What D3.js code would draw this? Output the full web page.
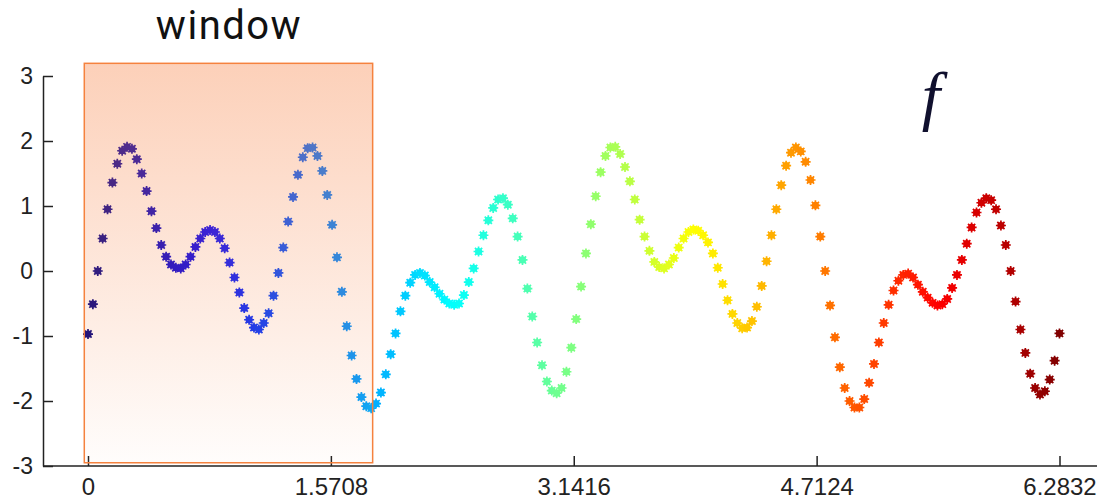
<!DOCTYPE html>
<html>
<head>
<meta charset="utf-8">
<script src="https://d3js.org/d3.v7.min.js"></script>
<style>
  body { margin: 0; background: #fff; }
  .tick text { font-family: "Liberation Sans", Arial, sans-serif; fill: #222; }
  .axis path, .axis line { stroke: #222; stroke-width: 1.5px; }
</style>
</head>
<body>
<svg id="chart" width="1097" height="500"></svg>
<script>
// sample values of f, 200 points from 0 to 2*pi
var fValues = [
  -0.97, -0.51, 0.00, 0.50, 0.95, 1.36, 1.65, 1.85, 1.91, 1.88,
   1.72, 1.50, 1.23, 0.92, 0.66, 0.40, 0.22, 0.10, 0.05, 0.04,
   0.10, 0.22, 0.37, 0.50, 0.60, 0.63, 0.60, 0.50, 0.35, 0.13,
  -0.10, -0.33, -0.57, -0.75, -0.87, -0.90, -0.80, -0.65, -0.38, -0.03,
   0.36, 0.76, 1.14, 1.48, 1.75, 1.89, 1.90, 1.77, 1.54, 1.17,
   0.71, 0.21, -0.32, -0.85, -1.30, -1.66, -1.94, -2.08, -2.11, -2.04,
  -1.87, -1.59, -1.28, -0.96, -0.62, -0.38, -0.18, -0.06, -0.03, -0.07,
  -0.17, -0.25, -0.35, -0.44, -0.50, -0.52, -0.50, -0.37, -0.17, 0.04,
   0.30, 0.55, 0.78, 0.97, 1.10, 1.12, 1.02, 0.81, 0.53, 0.17,
  -0.27, -0.70, -1.10, -1.45, -1.70, -1.84, -1.88, -1.80, -1.55, -1.18,
  -0.74, -0.24, 0.27, 0.72, 1.15, 1.52, 1.77, 1.90, 1.91, 1.80,
   1.60, 1.38, 1.10, 0.79, 0.53, 0.31, 0.14, 0.06, 0.04, 0.10,
   0.20, 0.36, 0.50, 0.60, 0.64, 0.62, 0.55, 0.44, 0.27, 0.05,
  -0.20, -0.45, -0.66, -0.80, -0.88, -0.87, -0.77, -0.55, -0.23, 0.15,
   0.55, 0.95, 1.32, 1.62, 1.82, 1.90, 1.84, 1.68, 1.40, 1.01,
   0.53, 0.00, -0.53, -1.02, -1.48, -1.80, -2.00, -2.10, -2.10, -1.97,
  -1.72, -1.43, -1.10, -0.80, -0.52, -0.30, -0.15, -0.06, -0.04, -0.10,
  -0.21, -0.32, -0.41, -0.49, -0.53, -0.51, -0.43, -0.26, -0.06, 0.17,
   0.42, 0.67, 0.90, 1.05, 1.12, 1.09, 0.95, 0.70, 0.40, 0.00,
  -0.47, -0.90, -1.26, -1.58, -1.80, -1.90, -1.85, -1.67, -1.38, -0.96
];
var xTicks = [0, 1.5708, 3.1416, 4.7124, 6.2832];
var xTickLabels = ["0", "1.5708", "3.1416", "4.7124", "6.2832"];
var yTicks = [-3, -2, -1, 0, 1, 2, 3];
var windowX = [-0.024, 1.841];
var windowY = [-2.95, 3.195];

var svg = d3.select("#chart");
var n = fValues.length;
var xStep = 2 * Math.PI / (n - 1);

var x = d3.scaleLinear().domain([0, 2 * Math.PI]).range([88, 1059.5]);
var y = d3.scaleLinear().domain([-3, 3]).range([466, 76]);

// jet colormap
function jet(t) {
  var c = function(v) { return Math.max(0, Math.min(1, v)) * 255; };
  return d3.rgb(c(1.5 - Math.abs(4 * t - 3)), c(1.5 - Math.abs(4 * t - 2)), c(1.5 - Math.abs(4 * t - 1))) + "";
}

// gradient for the window
var defs = svg.append("defs");
var grad = defs.append("linearGradient").attr("id", "winGrad")
    .attr("x1", 0).attr("y1", 0).attr("x2", 0).attr("y2", 1);
grad.append("stop").attr("offset", "0%").attr("stop-color", "rgb(248,138,80)").attr("stop-opacity", 0.4);
grad.append("stop").attr("offset", "100%").attr("stop-color", "rgb(248,138,80)").attr("stop-opacity", 0.02);

// axes
svg.append("line").attr("x1", 43).attr("x2", 1097).attr("y1", 466).attr("y2", 466)
    .attr("stroke", "#222").attr("stroke-width", 1.5);

var xAxis = svg.append("g").attr("class", "axis").attr("transform", "translate(0,466)")
    .call(d3.axisBottom(x).tickValues(xTicks)
      .tickFormat(function(d, i) { return xTickLabels[i]; })
      .tickSizeInner(-10).tickSizeOuter(0).tickPadding(12));
xAxis.select(".domain").remove();
xAxis.selectAll("text").style("font-size", "24px");

var yAxis = svg.append("g").attr("class", "axis").attr("transform", "translate(43,0)")
    .call(d3.axisLeft(y).tickValues(yTicks).tickFormat(function(d) { return String(d); })
      .tickSizeInner(-10).tickSizeOuter(0).tickPadding(10));
yAxis.selectAll("text").style("font-size", "23px");

// points
var star = "M-5,0H5M0,-5V5M-3.6,-3.6L3.6,3.6M-3.6,3.6L3.6,-3.6";
var pts = svg.append("g").selectAll("g")
  .data(fValues)
  .enter().append("g")
    .attr("transform", function(d, i) { return "translate(" + x(i * xStep) + "," + y(d) + ")"; });
pts.append("circle").attr("r", 3.6)
    .attr("fill", function(d, i) { return jet(i / (n - 1)); });
pts.append("path").attr("d", star)
    .attr("stroke", function(d, i) { return jet(i / (n - 1)); })
    .attr("stroke-width", 1.7).attr("fill", "none");

// window overlay
svg.append("rect")
    .attr("x", x(windowX[0])).attr("y", y(windowY[1]))
    .attr("width", x(windowX[1]) - x(windowX[0]))
    .attr("height", y(windowY[0]) - y(windowY[1]))
    .attr("fill", "url(#winGrad)")
    .attr("stroke", "#f5823e").attr("stroke-width", 1.5);

svg.append("text").attr("x", 229).attr("y", 38.5)
    .attr("text-anchor", "middle")
    .style("font-family", "Roboto, 'Open Sans', sans-serif")
    .style("font-size", "40px").style("letter-spacing", "1.5px").style("fill", "#111")
    .text("window");

svg.append("text").attr("x", 931).attr("y", 118)
    .attr("text-anchor", "middle")
    .style("font-family", "'Liberation Serif', 'Times New Roman', serif")
    .style("font-style", "italic").style("font-size", "66px").style("fill", "#10102e")
    .text("f");
</script>
</body>
</html>
